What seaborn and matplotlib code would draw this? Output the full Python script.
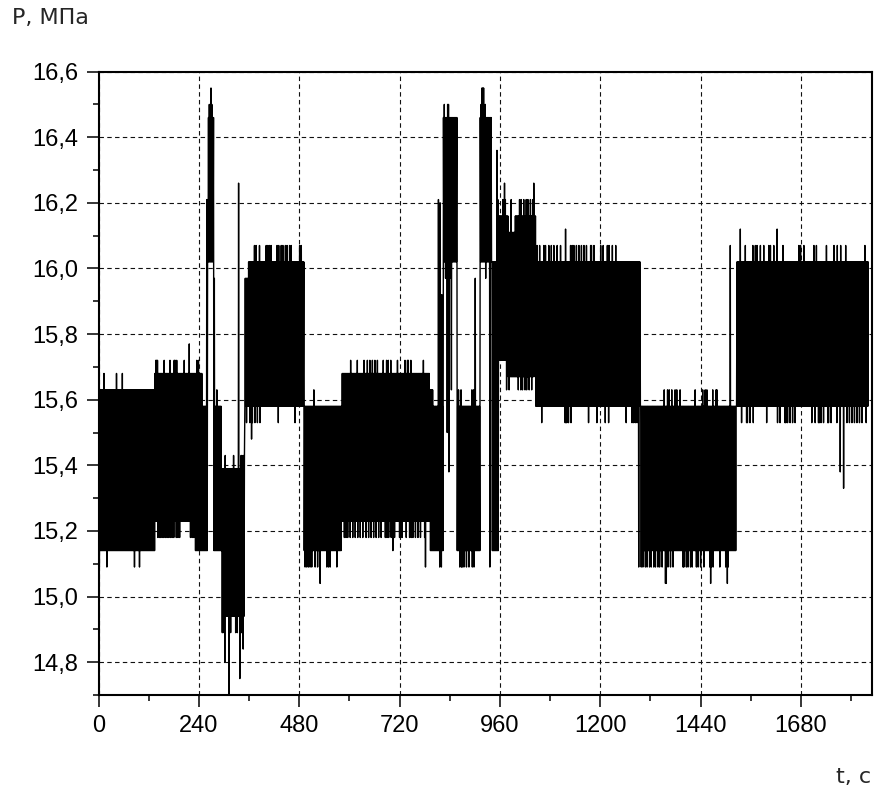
import numpy as np
import pandas as pd
import matplotlib
matplotlib.use("Agg")
import matplotlib.pyplot as plt
import seaborn as sns
from matplotlib.ticker import MultipleLocator, FixedLocator, FuncFormatter

# Pressure record: quantised readings that flicker between a lower and an
# upper level inside each operating regime (t in s, P in MPa).
seg_t0 = [0, 135, 232, 248, 259, 262, 276, 279, 295, 350, 358, 492, 582, 793,
          800, 825, 858, 913, 941, 957, 980, 997, 1046, 1297, 1526]
seg_t1 = [135, 232, 248, 259, 262, 276, 279, 295, 350, 358, 492, 582, 793, 800,
          825, 858, 913, 941, 957, 980, 997, 1046, 1297, 1526, 1842]
seg_low = [15.14, 15.23, 15.14, 15.14, 15.14, 16.02, 15.14, 15.14, 14.94, 15.58,
           15.58, 15.14, 15.23, 15.14, 15.14, 16.02, 15.14, 16.02, 15.14, 15.72,
           15.67, 15.67, 15.58, 15.14, 15.58]
seg_high = [15.63, 15.68, 15.68, 15.58, 16.21, 16.46, 15.97, 15.58, 15.39, 15.97,
            16.02, 15.58, 15.68, 15.63, 15.58, 16.46, 15.58, 16.46, 16.02, 16.16,
            16.11, 16.16, 16.02, 15.58, 16.02]

# Individual excursions outside the regime band
spike_t = [
    2, 13, 21, 42, 56, 87, 99,
    137, 139, 141, 143, 146, 149, 152, 156, 157, 160, 164, 168, 171, 172, 176,
    180, 181, 183, 186, 187, 190, 194, 205, 216, 220, 224, 228, 234, 238,
    265, 268, 270, 283,
    296, 299, 302, 303, 313, 316, 323, 329, 332, 335, 338, 340, 342, 343, 346,
    347, 349,
    355, 362, 366, 369, 372, 375, 376, 380, 384, 386, 400, 404, 409, 413, 427,
    430, 431, 436, 441, 446, 451, 456, 461, 470, 481, 484,
    494, 498, 502, 506, 510, 514, 518, 525, 530, 546, 550, 554, 570,
    588, 592, 597, 602, 603, 609, 614, 618, 620, 626, 632, 634, 640, 643, 646,
    648, 652, 655, 658, 661, 664, 666, 670, 676, 681, 686, 688, 690, 692, 695,
    698, 700, 704, 709, 715, 721, 723, 727, 733, 737, 739, 741, 745, 746, 749,
    752, 758, 764, 770, 776, 781, 783,
    813, 816, 817, 820, 821, 826, 831, 834, 835, 837, 839, 841, 844,
    860, 864, 866, 868, 870, 875, 880, 886, 892, 894, 897, 899, 901,
    915, 916, 918, 921, 924, 927, 937, 952, 954,
    966, 970, 972, 976, 982, 986, 1005, 1006, 1010, 1011, 1015, 1017, 1020,
    1023, 1025, 1027, 1030, 1033, 1036, 1038, 1040, 1042,
    1048, 1055, 1060, 1061, 1064, 1068, 1076, 1082, 1088, 1096, 1104, 1116,
    1117, 1118, 1120, 1124, 1128, 1130, 1133, 1136, 1142, 1148, 1154, 1160,
    1166, 1172, 1176, 1178, 1184, 1192, 1201, 1206, 1212, 1216, 1220, 1221,
    1228, 1236, 1262, 1276, 1280, 1284, 1288, 1293,
    1299, 1303, 1308, 1313, 1318, 1323, 1328, 1333, 1338, 1343, 1348, 1353,
    1356, 1358, 1361, 1362, 1365, 1368, 1371, 1375, 1378, 1382, 1390, 1398,
    1401, 1406, 1411, 1416, 1421, 1426, 1431, 1434, 1440, 1445, 1448, 1451,
    1455, 1463, 1465, 1467, 1469, 1471, 1477, 1479, 1487, 1500, 1504, 1507,
    1511,
    1535, 1539, 1547, 1551, 1552, 1558, 1564, 1566, 1571, 1575, 1583, 1590,
    1598, 1602, 1606, 1614, 1622, 1624, 1630, 1636, 1642, 1644, 1648, 1654,
    1660, 1666, 1674, 1678, 1686, 1706, 1710, 1714, 1716, 1722, 1724, 1728,
    1734, 1740, 1744, 1746, 1752, 1758, 1766, 1767, 1774, 1775, 1782, 1787,
    1790, 1791, 1796, 1802, 1808, 1814, 1820, 1826, 1832, 1836, 1838,
]
spike_p = [
    15.09, 15.68, 15.09, 15.68, 15.68, 15.09, 15.09,
    15.72, 15.72, 15.72, 15.18, 15.18, 15.18, 15.18, 15.18, 15.72, 15.18, 15.18,
    15.18, 15.72, 15.18, 15.18, 15.72, 15.18, 15.72, 15.72, 15.18, 15.18, 15.18,
    15.72, 15.77, 15.18, 15.18, 15.18, 15.72, 15.72,
    16.50, 16.55, 16.50, 15.63,
    14.89, 14.89, 14.80, 15.43, 14.70, 14.89, 15.43, 14.89, 14.89, 16.26, 14.75,
    15.43, 14.89, 15.43, 14.84, 15.43, 15.43,
    15.53, 15.53, 15.48, 15.53, 16.07, 15.53, 16.07, 15.53, 16.07, 15.53, 16.07,
    16.07, 16.07, 16.07, 16.07, 15.53, 16.07, 16.07, 16.07, 16.07, 16.07, 16.07,
    16.07, 15.53, 16.07, 16.07,
    15.09, 15.09, 15.09, 15.09, 15.09, 15.63, 15.09, 15.09, 15.04, 15.09, 15.09,
    15.09, 15.09,
    15.18, 15.18, 15.18, 15.72, 15.18, 15.18, 15.18, 15.72, 15.18, 15.18, 15.18,
    15.72, 15.18, 15.72, 15.18, 15.72, 15.18, 15.72, 15.18, 15.72, 15.18, 15.72,
    15.18, 15.18, 15.72, 15.18, 15.72, 15.18, 15.72, 15.18, 15.72, 15.18, 15.14,
    15.18, 15.72, 15.18, 15.18, 15.18, 15.72, 15.18, 15.72, 15.72, 15.18, 15.72,
    15.18, 15.18, 15.18, 15.18, 15.18, 15.72, 15.18,
    15.09, 16.21, 15.09, 16.20, 15.09, 15.92, 16.50, 15.97, 16.50, 15.50, 16.50,
    15.38, 15.97,
    15.63, 15.63, 15.09, 15.63, 15.09, 15.09, 15.09, 15.09, 15.09, 15.63, 15.09,
    15.63, 15.09,
    15.97, 16.50, 16.55, 16.55, 16.55, 16.50, 15.97, 15.09, 16.36,
    16.21, 16.21, 16.26, 16.21, 15.63, 15.63, 16.21, 15.63, 16.21, 15.63, 16.21,
    15.63, 16.21, 15.63, 16.21, 15.63, 16.21, 15.63, 16.21, 15.63, 16.21, 16.26,
    16.07, 16.07, 16.07, 15.53, 15.53, 16.07, 16.07, 16.07, 16.07, 16.07, 16.07,
    16.07, 15.53, 16.12, 15.53, 15.53, 15.53, 16.07, 15.53, 16.07, 16.07, 16.07,
    16.07, 16.07, 16.07, 16.07, 15.53, 16.07, 16.07, 16.07, 15.53, 16.07, 16.07,
    15.53, 16.07, 15.53, 16.07, 16.07, 16.07, 15.53, 15.53, 15.53, 15.53, 15.53,
    15.09, 15.09, 15.09, 15.09, 15.09, 15.09, 15.09, 15.09, 15.09, 15.09, 15.09,
    15.09, 15.63, 15.04, 15.04, 15.63, 15.09, 15.63, 15.09, 15.63, 15.09, 15.63,
    15.63, 15.63, 15.09, 15.09, 15.09, 15.09, 15.09, 15.09, 15.63, 15.09, 15.09,
    15.09, 15.63, 15.09, 15.63, 15.63, 15.09, 15.04, 15.09, 15.63, 15.09, 15.63,
    15.63, 15.09, 15.09, 15.04, 15.09,
    16.07, 16.12, 15.53, 16.07, 15.53, 15.53, 15.53, 16.07, 15.53, 16.07, 16.07,
    16.07, 16.07, 15.53, 16.07, 16.07, 16.07, 16.12, 15.53, 15.53, 16.07, 15.53,
    15.53, 15.53, 15.53, 15.53, 15.53, 16.07, 16.07, 16.07, 15.53, 16.07, 15.53,
    16.07, 15.53, 15.53, 15.53, 15.53, 16.07, 15.53, 15.53, 15.53, 16.07, 15.53,
    16.07, 15.38, 16.07, 15.33, 16.07, 15.53, 15.53, 15.53, 15.53, 15.53, 15.53,
    15.53, 15.53, 16.07, 15.53,
]

x_ticks = [0, 240, 480, 720, 960, 1200, 1440, 1680]
y_ticks = [14.8, 15.0, 15.2, 15.4, 15.6, 15.8, 16.0, 16.2, 16.4, 16.6]

# Expand each regime into 1-second samples alternating between its two levels
t = np.arange(seg_t0[0], seg_t1[-1])
p = np.empty(t.size)
lo_at = np.empty(t.size)
hi_at = np.empty(t.size)
for t0, t1, lo, hi in zip(seg_t0, seg_t1, seg_low, seg_high):
    m = (t >= t0) & (t < t1)
    p[m] = np.where(t[m] % 2 == 0, lo, hi)
    lo_at[m] = lo
    hi_at[m] = hi

# Put downward excursions on low-level samples and upward ones on high-level
# samples so the band itself stays unbroken.
for ts, ps in zip(spike_t, spike_p):
    i = ts
    if ps < lo_at[i] and i % 2 == 1:
        i -= 1
    elif ps > hi_at[i] and i % 2 == 0:
        i = min(i + 1, t.size - 1)
    p[i] = ps

df = pd.DataFrame({"t": t, "P": p})

sns.set_style("ticks")
plt.rcParams["font.family"] = ["Liberation Sans", "DejaVu Sans"]

fig = plt.figure(figsize=(8.75, 7.92), dpi=100)
ax = fig.add_axes([0.1126, 0.1225, 0.8840, 0.7871])

sns.lineplot(data=df, x="t", y="P", color="black", linewidth=1.0,
             estimator=None, errorbar=None, ax=ax, zorder=3)

ax.set_xlim(0, 1850)
ax.set_ylim(14.7, 16.6)
ax.xaxis.set_major_locator(FixedLocator(x_ticks))
ax.xaxis.set_minor_locator(MultipleLocator(120))
ax.yaxis.set_major_locator(FixedLocator(y_ticks))
ax.yaxis.set_minor_locator(MultipleLocator(0.1))
ax.yaxis.set_major_formatter(FuncFormatter(lambda v, _: f"{v:.1f}".replace(".", ",")))
ax.xaxis.set_major_formatter(FuncFormatter(lambda v, _: f"{v:.0f}"))

ax.tick_params(which="both", direction="out", top=False, right=False,
               colors="black", width=1.1)
ax.tick_params(which="major", length=8.6, labelsize=17, pad=6)
ax.tick_params(which="minor", length=4.3)

ax.grid(True, which="major", color="#111111", linestyle=(0, (4, 3)), linewidth=0.8)
ax.set_axisbelow(True)
for side in ["left", "right", "top", "bottom"]:
    ax.spines[side].set_linewidth(1.5)
    ax.spines[side].set_color("black")

ax.set_xlabel("")
ax.set_ylabel("")

fig.text(12 / 875, 1 - 8 / 792, "P, МПа", ha="left", va="top",
         fontsize=16, family=["DejaVu Sans"])
fig.text(871 / 875, 1 - 783 / 792, "t, c", ha="right", va="baseline",
         fontsize=16, family=["DejaVu Sans"])

fig.savefig("out.png", dpi=100)
